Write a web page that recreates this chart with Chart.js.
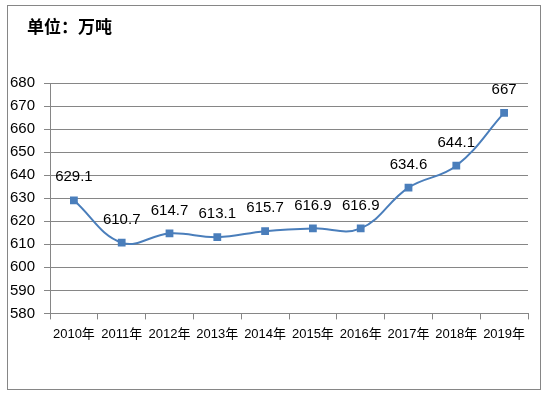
<!DOCTYPE html>
<html>
<head>
<meta charset="utf-8">
<script src="https://cdn.jsdelivr.net/npm/chart.js@4"></script>
<style>
	body { margin: 0; background: #fff; }
	#box { position: absolute; left: 7px; top: 5px; width: 532px; height: 383px; border: 1px solid #868686; }
	canvas { display: block; }
</style>
</head>
<body>
<div id="box"><canvas id="output" width="532" height="383"></canvas></div>
<script>
// data
var labels_years = ["2010年", "2011年", "2012年", "2013年", "2014年", "2015年", "2016年", "2017年", "2018年", "2019年"];
var data_output = [629.1, 610.7, 614.7, 613.1, 615.7, 616.9, 616.9, 634.6, 644.1, 667];
var y_min = 580;
var y_max = 680;
var y_step = 10;
var unit_text = "单位：万吨";

var fontFamily = "'Liberation Sans', 'Noto Sans CJK SC', sans-serif";

// unit title + value labels above each point
var valueLabels = {
	id: "valueLabels",
	afterDatasetsDraw: function (chart) {
		var c = chart.ctx;
		var meta = chart.getDatasetMeta(0);
		c.save();
		c.fillStyle = "#000";
		c.textBaseline = "middle";
		c.font = "bold 17px " + fontFamily;
		c.textAlign = "left";
		c.fillText(unit_text, 19, 22);
		c.font = "15px " + fontFamily;
		c.textAlign = "center";
		meta.data.forEach(function (pt, i) {
			c.fillText(String(data_output[i]), pt.x, pt.y - 23);
		});
		c.restore();
	},
};

var ctx = document.getElementById("output").getContext("2d");
var myChart_output = new Chart(ctx, {
	type: "line",
	data: {
		labels: labels_years,
		datasets: [
			{
				label: "产量",
				data: data_output,
				borderColor: "#4a7ebb",
				backgroundColor: "#4a7ebb",
				borderWidth: 2,
				tension: 0.4,
				pointStyle: "rect",
				pointRadius: 5.5,
				pointBorderWidth: 0,
			},
		],
	},
	options: {
		responsive: false,
		animation: false,
		layout: { padding: { left: 2, right: 12, top: 77, bottom: 40 } },
		plugins: {
			legend: { display: false },
			tooltip: { enabled: false },
			title: { display: false },
		},
		scales: {
			x: {
				offset: true,
				grid: { offset: true, drawOnChartArea: false, color: "#868686", tickLength: 6 },
				border: { color: "#868686" },
				ticks: { color: "#000", font: { family: fontFamily, size: 13 }, maxRotation: 0, padding: 7 },
			},
			y: {
				min: y_min,
				max: y_max,
				afterFit: function (scale) { scale.width = 40; },
				grid: { color: "#868686", tickLength: 6 },
				border: { color: "#868686" },
				ticks: { stepSize: y_step, color: "#000", font: { family: fontFamily, size: 15 }, padding: 9 },
			},
		},
	},
	plugins: [valueLabels],
});
</script>
</body>
</html>
